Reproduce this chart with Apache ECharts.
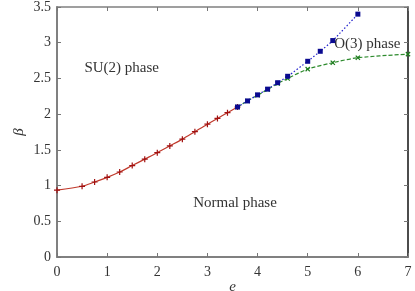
<!DOCTYPE html>
<html><head><meta charset="utf-8">
<script src="https://cdn.jsdelivr.net/npm/echarts@6/dist/echarts.min.js"></script>
<style>html,body{margin:0;padding:0;background:#fff}#c{width:415px;height:291px}</style>
</head><body><div id="c"></div>
<script>
// Data
const redE = [0, 0.5, 0.75, 1.0, 1.25, 1.5, 1.75, 2.0, 2.25, 2.5, 2.75, 3.0, 3.2, 3.4, 3.6];
const redBeta = [0.935, 0.99, 1.05, 1.115, 1.19, 1.28, 1.37, 1.46, 1.555, 1.65, 1.755, 1.86, 1.94, 2.02, 2.10];
const blueE = [3.6, 3.8, 4.0, 4.2, 4.4, 4.6, 5.0, 5.25, 5.5, 6.0];
const blueBeta = [2.10, 2.185, 2.27, 2.35, 2.44, 2.53, 2.74, 2.88, 3.03, 3.40];
const greenE = [3.6, 3.8, 4.0, 4.2, 4.4, 4.6, 5.0, 5.5, 6.0, 7.0];
const greenBeta = [2.10, 2.185, 2.265, 2.345, 2.43, 2.50, 2.63, 2.72, 2.79, 2.84];
const xTicks = [0, 1, 2, 3, 4, 5, 6, 7];
const yTicks = [0, 0.5, 1, 1.5, 2, 2.5, 3, 3.5];
const phaseLabels = [
  {text: 'SU(2) phase', e: 1.29, beta: 2.65},
  {text: 'Normal phase', e: 3.55, beta: 0.75},
  {text: 'O(3) phase', e: 6.19, beta: 2.975}
];

const plus = 'path://M4,0 L6,0 L6,4 L10,4 L10,6 L6,6 L6,10 L4,10 L4,6 L0,6 L0,4 L4,4 Z';
const pairs = (xs, ys) => xs.map((x, i) => [x, ys[i]]);
const font = 'Liberation Serif';
const txt = '#333';

const chart = echarts.init(document.getElementById('c'), null, {renderer: 'canvas'});
const axisCommon = {
  axisTick: {show: true, inside: true, length: 4, lineStyle: {color: '#777', width: 1}},
  splitLine: {show: false},
  nameMoveOverlap: false
};
chart.setOption({
  animation: false,
  backgroundColor: '#fff',
  grid: {left: 57, right: 7, top: 7, bottom: 34, show: false, containLabel: false, outerBoundsMode: 'none'},
  xAxis: [
    Object.assign({}, axisCommon, {
      type: 'value', min: 0, max: 7, interval: 1, position: 'bottom',
      name: 'e', nameLocation: 'middle', nameGap: 23,
      nameTextStyle: {fontFamily: font, fontStyle: 'italic', fontSize: 15, color: txt},
      axisLine: {show: true, onZero: false, lineStyle: {color: '#808080', width: 2}},
      axisLabel: {fontFamily: font, fontSize: 14, color: txt, margin: 8,
        formatter: v => xTicks.includes(v) ? String(v) : ''}
    }),
    Object.assign({}, axisCommon, {
      type: 'value', min: 0, max: 7, interval: 1, position: 'top',
      axisLine: {show: true, onZero: false, lineStyle: {color: '#808080', width: 1.5}},
      axisLabel: {show: false}
    })
  ],
  yAxis: [
    Object.assign({}, axisCommon, {
      type: 'value', min: 0, max: 3.5, interval: 0.5, position: 'left',
      name: 'β', nameLocation: 'middle', nameGap: 30, nameRotate: 90,
      nameTextStyle: {fontFamily: font, fontStyle: 'italic', fontSize: 15, color: txt},
      axisLine: {show: true, onZero: false, lineStyle: {color: '#808080', width: 2}},
      axisLabel: {fontFamily: font, fontSize: 14, color: txt, margin: 6,
        formatter: v => yTicks.includes(v) ? String(v) : ''}
    }),
    Object.assign({}, axisCommon, {
      type: 'value', min: 0, max: 3.5, interval: 0.5, position: 'right',
      axisLine: {show: true, onZero: false, lineStyle: {color: '#111', width: 1.5}},
      axisLabel: {show: false}
    })
  ],
  series: [
    {
      type: 'line', data: pairs(redE, redBeta), smooth: 0.3,
      symbol: plus, symbolSize: 6,
      lineStyle: {color: '#c0392b', width: 1.2},
      itemStyle: {color: '#a01010'},
      z: 3
    },
    {
      type: 'line', data: pairs(greenE, greenBeta), smooth: 0.3,
      symbol: plus, symbolRotate: 45, symbolSize: 6,
      lineStyle: {color: '#2e8b2e', width: 1.2, type: [4, 2]},
      itemStyle: {color: '#1a7a1a'},
      z: 4
    },
    {
      type: 'line', data: pairs(blueE, blueBeta), smooth: 0.2,
      symbol: 'rect', symbolSize: 5,
      lineStyle: {color: '#2222cc', width: 1.2, type: [1.5, 2]},
      itemStyle: {color: '#0a0a90'},
      z: 5,
      markPoint: {
        symbol: 'circle', symbolSize: 0,
        label: {show: true, position: 'inside', fontFamily: font, fontSize: 15, color: txt,
          formatter: p => p.name, backgroundColor: 'transparent'},
        data: phaseLabels.map(l => ({name: l.text, coord: [l.e, l.beta], value: l.text}))
      }
    }
  ]
});
</script></body></html>
